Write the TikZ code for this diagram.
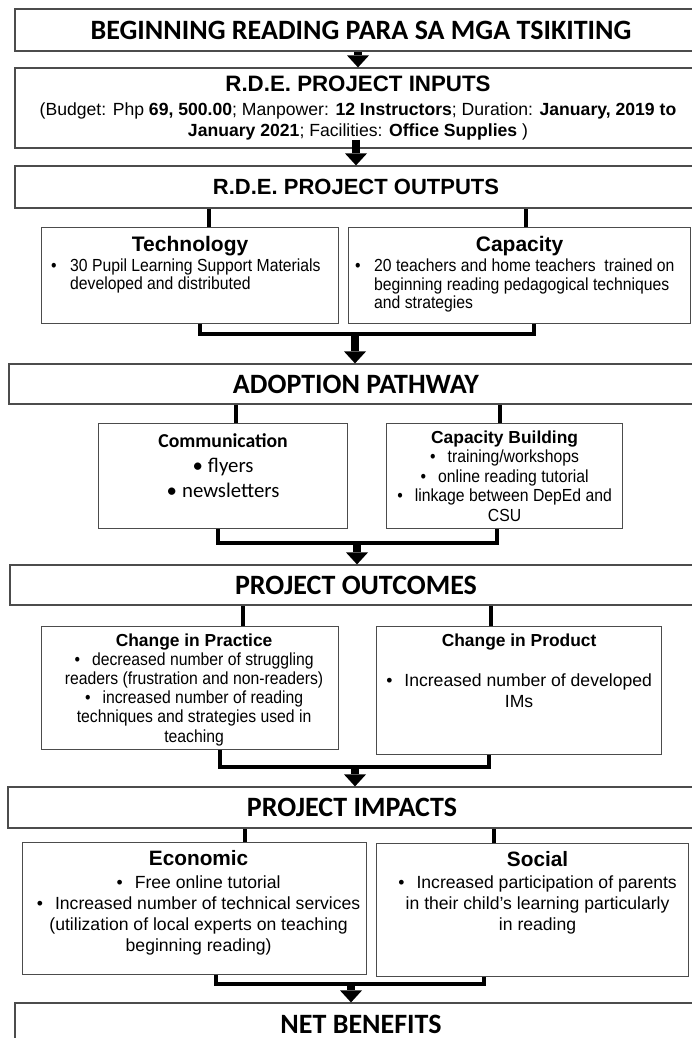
\documentclass[tikz,border=0pt]{standalone}
\usepackage{fontspec}
\setmainfont{Liberation Sans}
\newfontfamily\narrowfont[FakeStretch=0.9]{Liberation Sans}
\newfontfamily\headfont{Carlito}
\usetikzlibrary{arrows.meta}
\usetikzlibrary{positioning}
\tikzset{out box/.style={draw=black!70,line width=1.2pt,inner sep=0pt}}
\tikzset{head box/.style={out box,font=\headfont\bfseries\fontsize{28}{32}\selectfont}}
\tikzset{box text/.style={inner sep=0pt,align=center}}
\tikzset{link/.style={line width=4pt}}
\tikzset{fat arrow/.style={line width=8pt,-{Triangle[width=22pt,length=12pt,line width=0pt]}}}
\newcommand{\bul}{•\hspace{12pt}}
\newcommand{\hang}{\makebox[19pt][l]{•}}

\begin{document}
\begin{tikzpicture}[x=1pt,y=-1pt]
  \path[fill=white,use as bounding box] (0,0) rectangle (692,1038);
  \clip (0,0) rectangle (692,1038);

  % full width stages
  \node[head box,minimum width=692pt,minimum height=42pt] (title) at (361,30)
    {BEGINNING READING PARA SA MGA TSIKITING};
  \node[out box,minimum width=686pt,minimum height=80pt,align=center,
    font=\fontsize{17.6}{20.5}\selectfont] (inputs) at (358,108)
    {{\bfseries\fontsize{22.3}{26}\selectfont R.D.E. PROJECT INPUTS}\\[3.8pt]
     (Budget: Php \textbf{69, 500.00}; Manpower: \textbf{12 Instructors}; Duration: \textbf{January, 2019 to}\\
     \textbf{January 2021}; Facilities: \textbf{Office Supplies} )};
  \node[out box,minimum width=682pt,minimum height=42pt,
    font=\bfseries\fontsize{22}{26}\selectfont] (outputs) at (356,187) {R.D.E. PROJECT OUTPUTS};
  \node[head box,minimum width=694pt,minimum height=40pt] (adoption) at (356,384) {ADOPTION PATHWAY};
  \node[head box,minimum width=692pt,minimum height=40pt] (outcomes) at (356,585) {PROJECT OUTCOMES};
  \node[head box,minimum width=688pt,minimum height=41pt] (impacts) at (352,807.5) {PROJECT IMPACTS};
  \node[head box,minimum width=692pt,minimum height=42pt] (net) at (361,1024) {NET BENEFITS};

  % sub boxes
  \node[out box,minimum width=297pt,minimum height=96pt,anchor=north west] (tech) at (41,227) {};
  \node[out box,minimum width=342pt,minimum height=96pt,anchor=north west] (capacity) at (348,227) {};
  \node[out box,minimum width=249pt,minimum height=105pt,anchor=north west] (comm) at (98,423) {};
  \node[out box,minimum width=236pt,minimum height=105pt,anchor=north west] (capbuild) at (386,423) {};
  \node[out box,minimum width=297pt,minimum height=123pt,anchor=north west] (practice) at (41,626) {};
  \node[out box,minimum width=285pt,minimum height=128pt,anchor=north west] (product) at (376,626) {};
  \node[out box,minimum width=344pt,minimum height=132pt,anchor=north west] (economic) at (22,842) {};
  \node[out box,minimum width=312pt,minimum height=133pt,anchor=north west] (social) at (376,843) {};

  \node[box text,font=\bfseries\fontsize{21}{23}\selectfont,below=9.2pt of tech.north] (tech head) {Technology};
  \node[box text,align=left,font=\narrowfont\fontsize{17.5}{18}\selectfont,
    below right=32pt and 10pt of tech.north west] (tech list)
    {\hang 30 Pupil Learning Support Materials\\
     \hspace*{19pt}developed and distributed};
  \node[box text,font=\bfseries\fontsize{21}{23}\selectfont,below=9.2pt of capacity.north] (capacity head) {Capacity};
  \node[box text,align=left,font=\narrowfont\fontsize{17.5}{18.5}\selectfont,
    below right=32pt and 7pt of capacity.north west] (capacity list)
    {\hang 20 teachers and home teachers\ \ trained on\\
     \hspace*{19pt}beginning reading pedagogical techniques\\
     \hspace*{19pt}and strategies};
  \node[box text,font=\headfont\fontsize{20.8}{25}\selectfont,below=10pt of comm.north] (comm txt)
    {{\bfseries\fontsize{19.7}{25}\selectfont Communication}\\
     •\hspace{5pt}flyers\\
     •\hspace{5pt}newsletters};
  \node[box text,font=\narrowfont\fontsize{17.5}{19.5}\selectfont,below=7.5pt of capbuild.north] (capbuild txt)
    {{\normalfont\bfseries\fontsize{17.4}{19.5}\selectfont Capacity Building}\\
     \bul training/workshops\\
     \bul online reading tutorial\\
     \bul linkage between DepEd and\\
     CSU};
  \node[box text,font=\narrowfont\fontsize{17.5}{19.2}\selectfont,below=7.3pt of practice.north,xshift=4pt] (practice txt)
    {{\normalfont\bfseries\fontsize{17.4}{19}\selectfont Change in Practice}\\
     \bul decreased number of struggling\\
     readers (frustration and non-readers)\\
     \bul increased number of reading\\
     techniques and strategies used in\\
     teaching};
  \node[box text,font=\fontsize{17.6}{21}\selectfont,below=7.3pt of product.north] (product txt)
    {{\bfseries\fontsize{17.4}{19}\selectfont Change in Product}\\[19.7pt]
     \bul Increased number of developed\\
     IMs};
  \node[box text,font=\fontsize{17.6}{21}\selectfont,below=8.3pt of economic.north,xshift=4pt] (economic txt)
    {{\bfseries\fontsize{20.8}{23}\selectfont Economic}\\[1.8pt]
     \bul Free online tutorial\\
     \bul Increased number of technical services\\
     (utilization of local experts on teaching\\
     beginning reading)};
  \node[box text,font=\fontsize{17.6}{21}\selectfont,below=8.3pt of social.north,xshift=5pt] (social txt)
    {{\bfseries\fontsize{20.8}{23}\selectfont Social}\\[0.5pt]
     \bul Increased participation of parents\\
     in their child’s learning particularly\\
     in reading};

  % stubs down from each stage
  \foreach \kid/\stage/\dx in {tech/outputs/18.5,capacity/outputs/6,comm/adoption/12.5,
      capbuild/adoption/-5,practice/outcomes/52.5,product/outcomes/-28.5,
      economic/impacts/50,social/impacts/-39}
    {\coordinate (stub) at ([xshift=\dx]\kid.north);
     \draw[link] (stub) -- (stub |- \stage.south);}

  % joins and arrows
  \coordinate (j1) at (355,334);
  \coordinate (j2) at (357,543);
  \coordinate (j3) at (355,767);
  \coordinate (j4) at (351,984);
  \draw[link] ([xshift=9.5pt]tech.south) |- (j1) -| ([xshift=14pt]capacity.south);
  \draw[link] ([xshift=-5.5pt]comm.south) |- (j2) -| ([xshift=-8pt]capbuild.south);
  \draw[link] ([xshift=29.5pt]practice.south) |- (j3) -| ([xshift=-30.5pt]product.south);
  \draw[link] ([xshift=21pt]economic.south) |- (j4) -| ([xshift=-49pt]social.south);

  \draw[fat arrow] (title.south -| inputs.north) -- (inputs.north);
  \draw[fat arrow,shorten <=-9pt] (inputs.south -| outputs.north) -- (outputs.north);
  \draw[fat arrow] (j1) -- (j1 |- adoption.north);
  \draw[fat arrow] (j2) -- (j2 |- outcomes.north);
  \draw[fat arrow] (j3) -- (j3 |- impacts.north);
  \draw[fat arrow] (j4) -- (j4 |- net.north);
\end{tikzpicture}
\end{document}
